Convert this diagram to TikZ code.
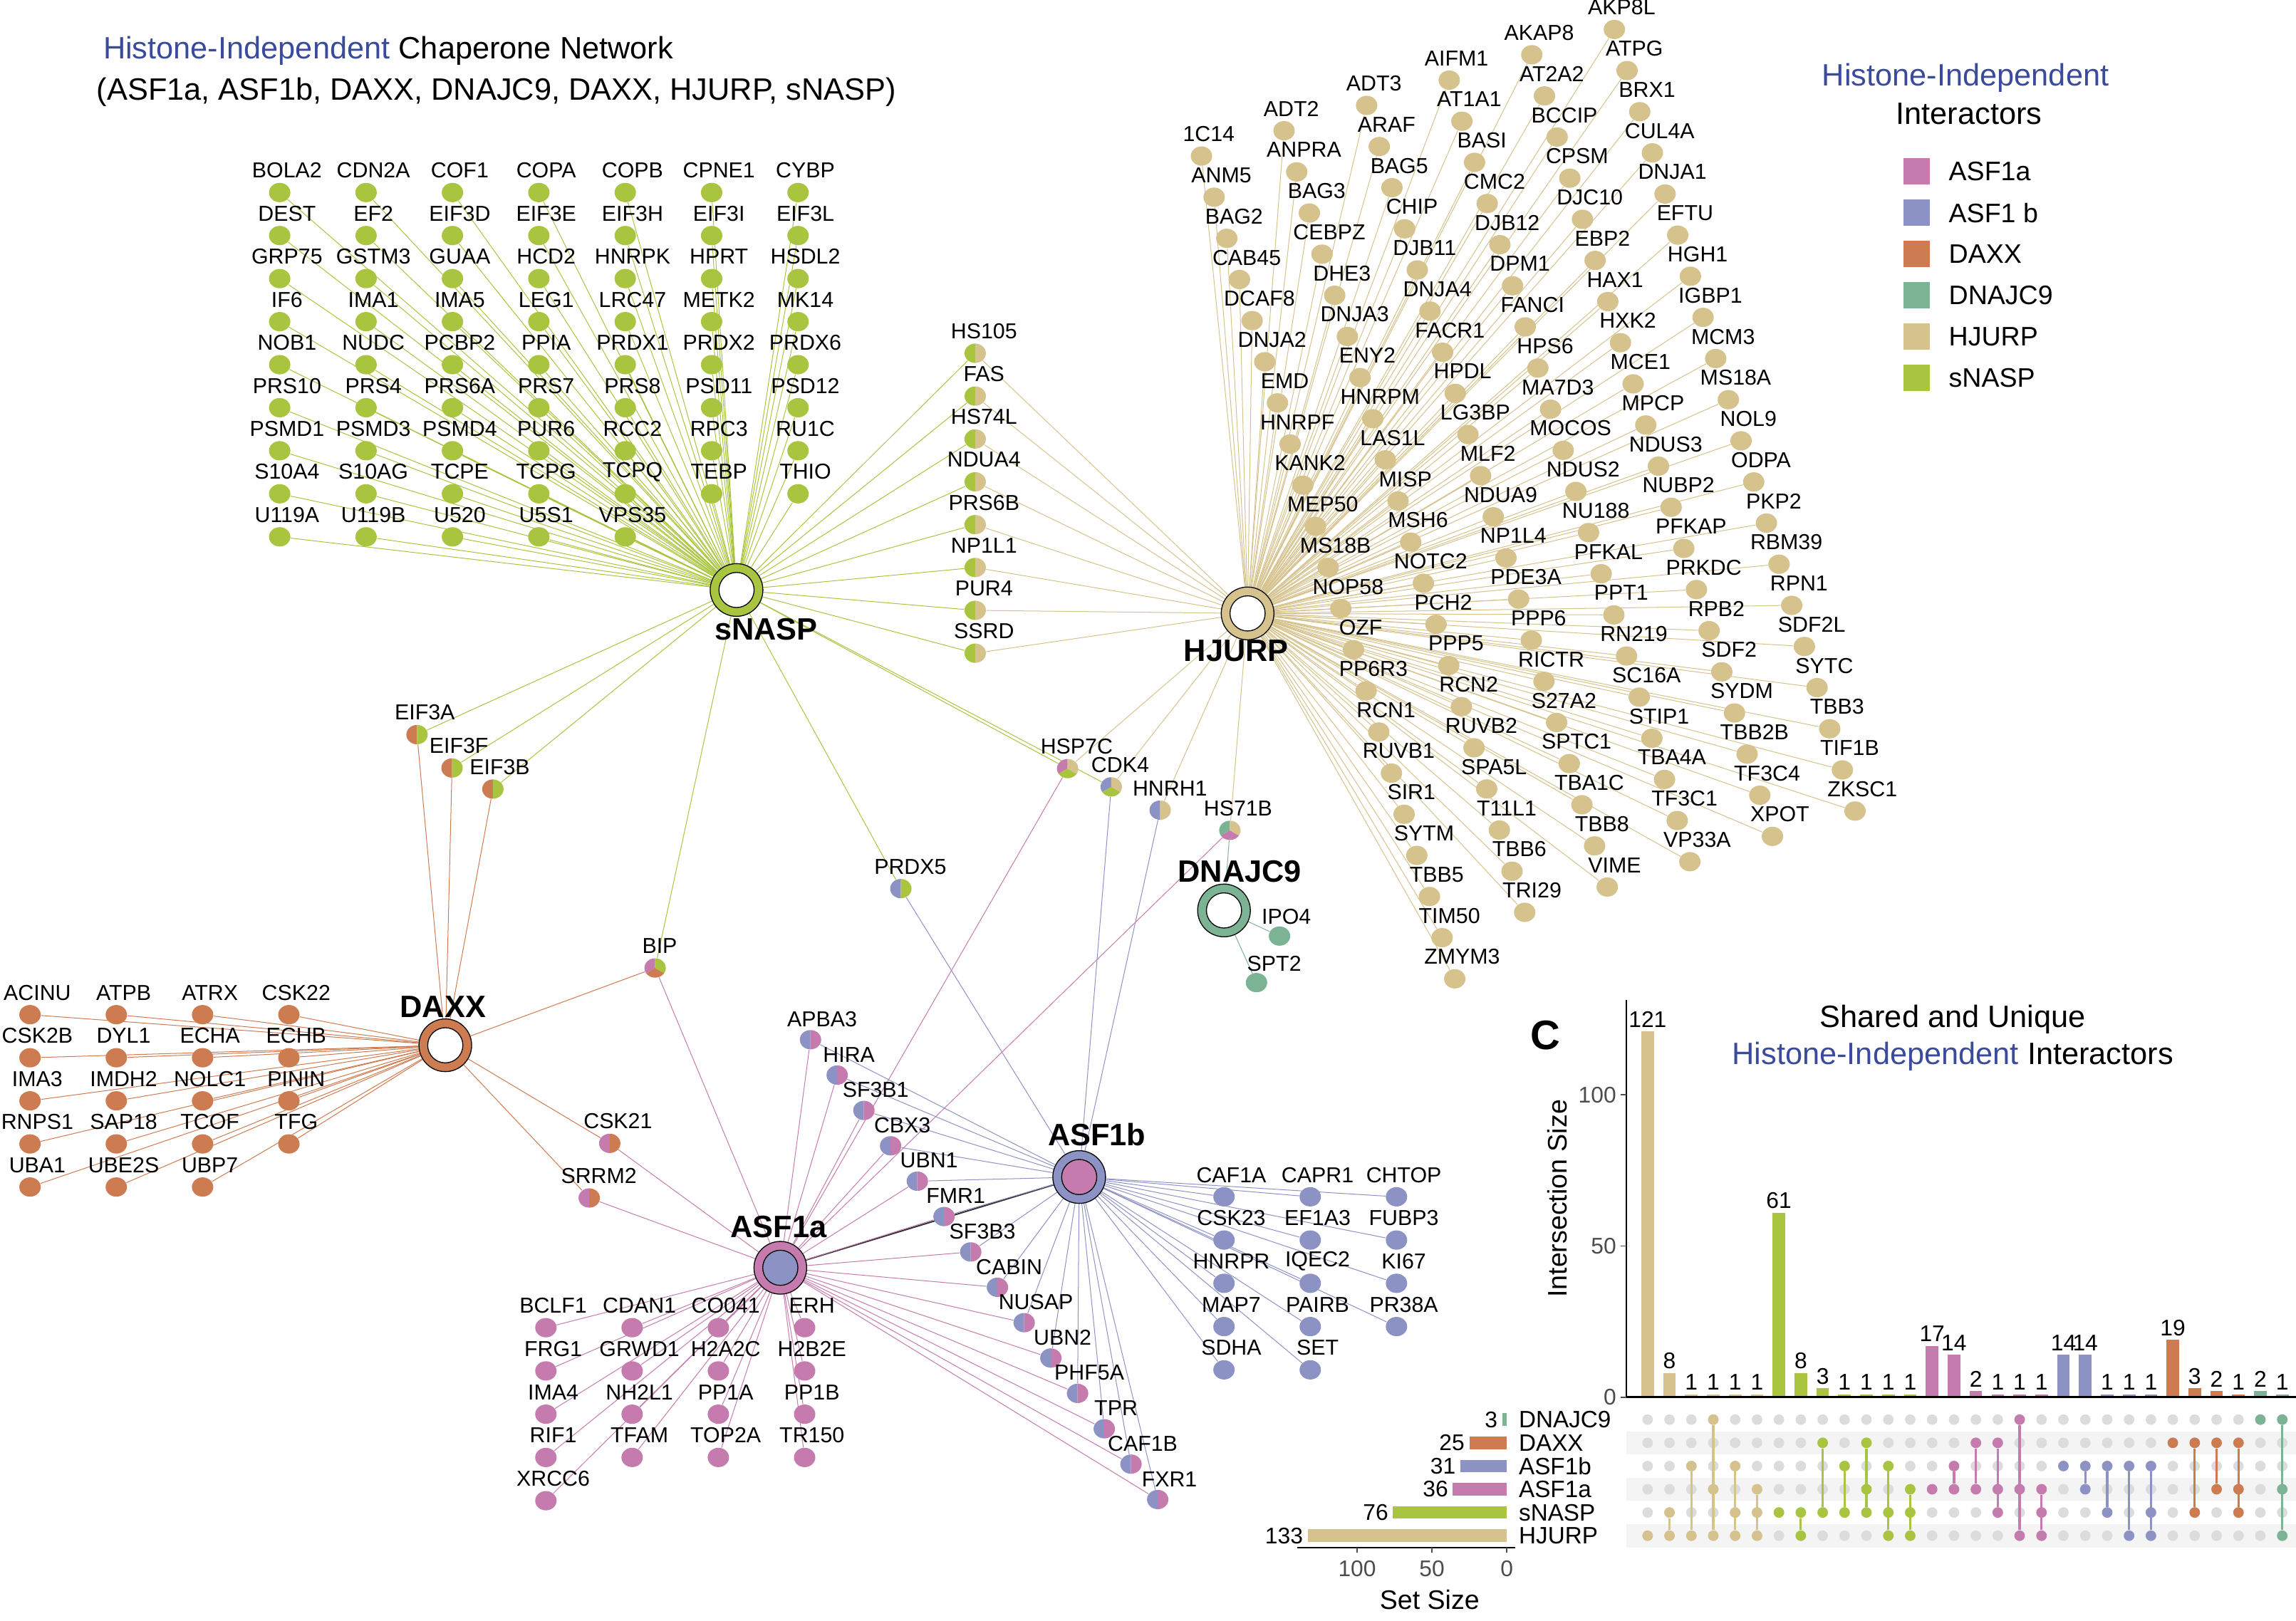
\documentclass[tikz,border=0pt]{standalone}
\usepackage{fontspec}
\setmainfont{Liberation Sans}
\usetikzlibrary{shapes.geometric}
\definecolor{cA}{HTML}{C67BAE}
\definecolor{cB}{HTML}{8C93C4}
\definecolor{cD}{HTML}{CD7B51}
\definecolor{cJ}{HTML}{7BB394}
\definecolor{cH}{HTML}{D6C28D}
\definecolor{cS}{HTML}{A9C540}
\definecolor{tblue}{HTML}{3A4A9C}
\definecolor{gband}{HTML}{F4F4F4}
\definecolor{gdotc}{HTML}{DCDCDC}
\pgfdeclarelayer{bg}
\pgfdeclarelayer{edges}
\pgfsetlayers{bg,edges,main}
\newcommand\myfs[1]{\fontsize{#1}{#1}\selectfont}
\newcommand\pfan[4]{\fill[#1] (path picture bounding box.center) -- ([shift={(#2:0.6cm)}]path picture bounding box.center) -- ([shift={(#3:0.6cm)}]path picture bounding box.center) -- ([shift={(#4:0.6cm)}]path picture bounding box.center) -- cycle;}
\newcommand\mkhub[5]{\node[hubring,fill=#4] (#1) at (#2,#3) {};\node[hubin,fill=#5] (#1-in) at (#2,#3) {};}
\newcommand\LstS{BOLA2,CDN2A,COF1,COPA,COPB,CPNE1,CYBP,DEST,EF2,EIF3D,EIF3E,EIF3H,EIF3I,EIF3L,GRP75,GSTM3,GUAA,HCD2,HNRPK,HPRT,HSDL2,IF6,IMA1,IMA5,LEG1,LRC47,METK2,MK14,NOB1,NUDC,PCBP2,PPIA,PRDX1,PRDX2,PRDX6,PRS10,PRS4,PRS6A,PRS7,PRS8,PSD11,PSD12,PSMD1,PSMD3,PSMD4,PUR6,RCC2,RPC3,RU1C,S10A4,S10AG,TCPE,TCPG,TCPQ,TEBP,THIO,U119A,U119B,U520,U5S1,VPS35}
\newcommand\LstSH{HS105,FAS,HS74L,NDUA4,PRS6B,NP1L1,PUR4,SSRD}
\newcommand\LstH{1C14,ADT2,ADT3,AIFM1,AKAP8,AKP8L,ANM5,ANPRA,ARAF,AT1A1,AT2A2,ATPG,BAG2,BAG3,BAG5,BASI,BCCIP,BRX1,CAB45,CEBPZ,CHIP,CMC2,CPSM,CUL4A,DCAF8,DHE3,DJB11,DJB12,DJC10,DNJA1,DNJA2,DNJA3,DNJA4,DPM1,EBP2,EFTU,EMD,ENY2,FACR1,FANCI,HAX1,HGH1,HNRPF,HNRPM,HPDL,HPS6,HXK2,IGBP1,KANK2,LAS1L,LG3BP,MA7D3,MCE1,MCM3,MEP50,MISP,MLF2,MOCOS,MPCP,MS18A,MS18B,MSH6,NDUA9,NDUS2,NDUS3,NOL9,NOP58,NOTC2,NP1L4,NU188,NUBP2,ODPA,OZF,PCH2,PDE3A,PFKAL,PFKAP,PKP2,PP6R3,PPP5,PPP6,PPT1,PRKDC,RBM39,RCN1,RCN2,RICTR,RN219,RPB2,RPN1,RUVB1,RUVB2,S27A2,SC16A,SDF2,SDF2L,SIR1,SPA5L,SPTC1,STIP1,SYDM,SYTC,SYTM,T11L1,TBA1C,TBA4A,TBB2B,TBB3,TBB5,TBB6,TBB8,TF3C1,TF3C4,TIF1B,TIM50,TRI29,VIME,VP33A,XPOT,ZKSC1,ZMYM3}
\newcommand\LstD{ACINU,ATPB,ATRX,CSK22,CSK2B,DYL1,ECHA,ECHB,IMA3,IMDH2,NOLC1,PININ,RNPS1,SAP18,TCOF,TFG,UBA1,UBE2S,UBP7}
\newcommand\LstA{BCLF1,CDAN1,CO041,ERH,FRG1,GRWD1,H2A2C,H2B2E,IMA4,NH2L1,PP1A,PP1B,RIF1,TFAM,TOP2A,TR150,XRCC6}
\newcommand\LstB{CAF1A,CAPR1,CHTOP,CSK23,EF1A3,FUBP3,HNRPR,IQEC2,KI67,MAP7,PAIRB,PR38A,SDHA,SET}
\newcommand\LstAB{APBA3,HIRA,SF3B1,CBX3,UBN1,FMR1,SF3B3,CABIN,NUSAP,UBN2,PHF5A,TPR,CAF1B,FXR1}
\tikzset{
 dot/.style={ellipse,inner sep=0pt,minimum width=0.365cm,minimum height=0.33cm},
 lbl/.style={inner sep=0pt,font=\myfs{10.5}},
 hubring/.style={circle,draw=black,line width=0.45pt,inner sep=0pt,minimum size=0.9cm},
 hubin/.style={circle,draw=black,line width=0.45pt,inner sep=0pt,minimum size=0.6cm},
 hublbl/.style={inner sep=0pt,font=\myfs{15}\bfseries},
 eA/.style={cA,line width=0.35pt},
 eB/.style={cB,line width=0.35pt},
 eD/.style={cD,line width=0.35pt},
 eJ/.style={cJ,line width=0.35pt},
 eH/.style={cH,line width=0.35pt},
 eS/.style={cS,line width=0.35pt},
 pietwo/.style 2 args={dot,path picture={\pfan{#1}{90}{180}{270}\pfan{#2}{270}{360}{450}}},
 piethree/.style n args={3}{dot,path picture={\pfan{#1}{90}{150}{210}\pfan{#2}{210}{270}{330}\pfan{#3}{330}{390}{450}}},
 gdot/.style={circle,inner sep=0pt,minimum size=0.18cm,fill=gdotc},
 mdot/.style={circle,inner sep=0pt,minimum size=0.18cm},
 num/.style={inner sep=0pt,font=\myfs{11}},
 tick/.style={inner sep=0pt,font=\myfs{11},text=black!70},
}
\begin{document}
\begin{tikzpicture}[x=0.025cm,y=-0.025cm]
\useasboundingbox (0,0) rectangle (1568,1107);

% ---------- titles ----------
\node[font=\myfs{15}] (title1) at (265.2,34.7) {\textcolor{tblue}{Histone-Independent} Chaperone Network};
\node[font=\myfs{15}] (title2) at (339,63) {(ASF1a, ASF1b, DAXX, DNAJC9, DAXX, HJURP, sNASP)};

% ---------- hubs ----------
\mkhub{sNASP}{503}{403}{cS}{white}
\mkhub{HJURP}{852}{419}{cH}{white}
\mkhub{DAXX}{304.1}{714}{cD}{white}
\mkhub{DNAJC9}{835.9}{621.9}{cJ}{white}
\mkhub{ASF1b}{737}{804}{cB}{cA}
\mkhub{ASF1a}{532.9}{866}{cA}{cB}
\node[hublbl] (lab-sNASP) at (523.2,429.9) {sNASP};
\node[hublbl] (lab-HJURP) at (844.3,444.7) {HJURP};
\node[hublbl] (lab-DAXX) at (302.5,687.5) {DAXX};
\node[hublbl] (lab-DNAJC9) at (846.7,595.3) {DNAJC9};
\node[hublbl] (lab-ASF1b) at (749.1,775.2) {ASF1b};
\node[hublbl] (lab-ASF1a) at (531.7,837.9) {ASF1a};

% ---------- sNASP only grid ----------
\foreach \lab [count=\i from 0] in \LstS {
  \pgfmathtruncatemacro\rr{floor((\i+0.5)/7)}
  \pgfmathtruncatemacro\cc{\i-7*\rr}
  \pgfmathsetmacro\xx{191+59*\cc}
  \pgfmathsetmacro\yy{131.5+29.4*\rr}
  \node[dot,fill=cS] (n-\lab) at (\xx,\yy) {};
  \node[lbl] (t-\lab) at (\xx+5,\yy-15) {\lab};
}
% ---------- sNASP + HJURP column ----------
\foreach \lab [count=\i from 0] in \LstSH {
  \pgfmathsetmacro\yy{241.3+29.27*\i}
  \node[pietwo={cS}{cH}] (n-\lab) at (666,\yy) {};
  \node[lbl] (t-\lab) at (672,\yy-15) {\lab};
}
% ---------- HJURP only grid ----------
\foreach \lab [count=\i from 0] in \LstH {
  \pgfmathtruncatemacro\rr{floor((\i+0.5)/6)}
  \pgfmathtruncatemacro\cc{\i-6*\rr}
  \pgfmathsetmacro\xx{820.5+8.65*\rr+56.4*\cc}
  \pgfmathsetmacro\yy{106.6+28.1*\rr-17.3*\cc}
  \node[dot,fill=cH] (n-\lab) at (\xx,\yy) {};
  \node[lbl] (t-\lab) at (\xx+5,\yy-15) {\lab};
}
% ---------- DAXX only grid ----------
\foreach \lab [count=\i from 0] in \LstD {
  \pgfmathtruncatemacro\rr{floor((\i+0.5)/4)}
  \pgfmathtruncatemacro\cc{\i-4*\rr}
  \pgfmathsetmacro\xx{20.5+58.93*\cc}
  \pgfmathsetmacro\yy{693.1+29.43*\rr}
  \node[dot,fill=cD] (n-\lab) at (\xx,\yy) {};
  \node[lbl] (t-\lab) at (\xx+5,\yy-15) {\lab};
}
% ---------- ASF1a only grid ----------
\foreach \lab [count=\i from 0] in \LstA {
  \pgfmathtruncatemacro\rr{floor((\i+0.5)/4)}
  \pgfmathtruncatemacro\cc{\i-4*\rr}
  \pgfmathsetmacro\xx{372.8+58.9*\cc}
  \pgfmathsetmacro\yy{906.9+29.55*\rr}
  \node[dot,fill=cA] (n-\lab) at (\xx,\yy) {};
  \node[lbl] (t-\lab) at (\xx+5,\yy-15) {\lab};
}
% ---------- ASF1b only grid ----------
\foreach \lab [count=\i from 0] in \LstB {
  \pgfmathtruncatemacro\rr{floor((\i+0.5)/3)}
  \pgfmathtruncatemacro\cc{\i-3*\rr}
  \pgfmathsetmacro\xx{835.9+58.9*\cc}
  \pgfmathsetmacro\yy{817.5+29.55*\rr}
  \node[dot,fill=cB] (n-\lab) at (\xx,\yy) {};
  \node[lbl] (t-\lab) at (\xx+5,\yy-15) {\lab};
}
% ---------- ASF1a + ASF1b shared ----------
\foreach \lab [count=\i from 0] in \LstAB {
  \pgfmathsetmacro\xx{553.5+18.24*\i}
  \pgfmathsetmacro\yy{710.2+24.16*\i}
  \node[pietwo={cB}{cA}] (n-\lab) at (\xx,\yy) {};
  \node[lbl] (t-\lab) at (\xx+8,\yy-14) {\lab};
}
% ---------- other shared nodes ----------
\node[pietwo={cD}{cS}] (n-EIF3A) at (284.8,501.8) {};
\node[lbl] (t-EIF3A) at (290.1,486.5) {EIF3A};
\node[pietwo={cD}{cS}] (n-EIF3F) at (308.7,524.6) {};
\node[lbl] (t-EIF3F) at (313.4,509.3) {EIF3F};
\node[pietwo={cD}{cS}] (n-EIF3B) at (336.6,539.0) {};
\node[lbl] (t-EIF3B) at (341.3,524.0) {EIF3B};
\node[piethree={cA}{cD}{cS}] (n-BIP) at (447.4,661.2) {};
\node[lbl] (t-BIP) at (450.5,646) {BIP};
\node[pietwo={cA}{cD}] (n-CSK21) at (416.4,781.0) {};
\node[lbl] (t-CSK21) at (422,766) {CSK21};
\node[pietwo={cA}{cD}] (n-SRRM2) at (402.4,818.3) {};
\node[lbl] (t-SRRM2) at (409,803.4) {SRRM2};
\node[pietwo={cB}{cS}] (n-PRDX5) at (615.2,607.0) {};
\node[lbl] (t-PRDX5) at (621.7,592) {PRDX5};
\node[piethree={cA}{cS}{cH}] (n-HSP7C) at (729.1,525) {};
\node[lbl] (t-HSP7C) at (735.3,510) {HSP7C};
\node[piethree={cB}{cS}{cH}] (n-CDK4) at (758.9,537.5) {};
\node[lbl] (t-CDK4) at (765,522.5) {CDK4};
\node[pietwo={cB}{cH}] (n-HNRH1) at (792.3,553.4) {};
\node[lbl] (t-HNRH1) at (799,538.4) {HNRH1};
\node[piethree={cJ}{cA}{cH}] (n-HS71B) at (839.9,567.2) {};
\node[lbl] (t-HS71B) at (845.5,552) {HS71B};
\node[dot,fill=cJ] (n-IPO4) at (873.8,639.4) {};
\node[lbl] (t-IPO4) at (878.5,626) {IPO4};
\node[dot,fill=cJ] (n-SPT2) at (858.1,671.2) {};
\node[lbl] (t-SPT2) at (870.2,658.4) {SPT2};

% ---------- all edges, one layer block ----------
\begin{pgfonlayer}{edges}
 \draw[black!80,line width=0.7pt] (ASF1a) -- (ASF1b);
 \foreach \lab in \LstS {\draw[eS] (sNASP) -- (n-\lab);}
 \foreach \lab in \LstSH {\draw[eS] (sNASP) -- (n-\lab);\draw[eH] (HJURP) -- (n-\lab);}
 \foreach \lab in \LstH {\draw[eH] (HJURP) -- (n-\lab);}
 \foreach \lab in \LstD {\draw[eD] (DAXX) -- (n-\lab);}
 \foreach \lab in \LstA {\draw[eA] (ASF1a) -- (n-\lab);}
 \foreach \lab in \LstB {\draw[eB] (ASF1b) -- (n-\lab);}
 \foreach \lab in \LstAB {\draw[eA] (ASF1a) -- (n-\lab);\draw[eB] (ASF1b) -- (n-\lab);}
 \foreach \m in {EIF3A,EIF3F,EIF3B}{\draw[eS] (sNASP) -- (n-\m);\draw[eD] (DAXX) -- (n-\m);}
 \draw[eS] (sNASP) -- (n-BIP); \draw[eD] (DAXX) -- (n-BIP); \draw[eA] (ASF1a) -- (n-BIP);
 \draw[eD] (DAXX) -- (n-CSK21); \draw[eA] (ASF1a) -- (n-CSK21);
 \draw[eD] (DAXX) -- (n-SRRM2); \draw[eA] (ASF1a) -- (n-SRRM2);
 \draw[eS] (sNASP) -- (n-PRDX5); \draw[eB] (ASF1b) -- (n-PRDX5);
 \draw[eS] (sNASP) -- (n-HSP7C); \draw[eH] (HJURP) -- (n-HSP7C); \draw[eA] (ASF1a) -- (n-HSP7C);
 \draw[eS] (sNASP) -- (n-CDK4); \draw[eH] (HJURP) -- (n-CDK4); \draw[eB] (ASF1b) -- (n-CDK4);
 \draw[eH] (HJURP) -- (n-HNRH1); \draw[eB] (ASF1b) -- (n-HNRH1);
 \draw[eH] (HJURP) -- (n-HS71B); \draw[eJ] (DNAJC9) -- (n-HS71B); \draw[eA] (ASF1a) -- (n-HS71B);
 \draw[eJ] (DNAJC9) -- (n-IPO4); \draw[eJ] (DNAJC9) -- (n-SPT2);
\end{pgfonlayer}

% ---------- legend ----------
\node[font=\myfs{15},text=tblue] (lg-t1) at (1342.3,53.1) {Histone-Independent};
\node[font=\myfs{15}] (lg-t2) at (1344.7,77.8) {Interactors};
\foreach \nm/\col [count=\i from 0] in {ASF1a/cA,ASF1 b/cB,DAXX/cD,DNAJC9/cJ,HJURP/cH,sNASP/cS}{
  \pgfmathsetmacro\yy{117.1+28.18*\i}
  \node[rectangle,inner sep=0pt,minimum size=0.45cm,fill=\col] (lg-sq\i) at (1308.9,\yy) {};
  \node[anchor=west,inner sep=0pt,font=\myfs{13}] (lg-l\i) at (1330.6,\yy) {\nm};
}

% ---------- UpSet plot ----------
\node[font=\myfs{20}\bfseries] (panelC) at (1055.3,707) {C};
\node[font=\myfs{15}] (up-t1) at (1333.6,696.4) {Shared and Unique};
\node[font=\myfs{15}] (up-t2) at (1333.6,721.4) {\textcolor{tblue}{Histone-Independent} Interactors};
\node[font=\myfs{13},rotate=90] (up-ylab) at (1063.3,818.7) {Intersection Size};
\foreach \r in {1,3,5}{
  \fill[gband] (1110.6,969.7+15.86*\r-7.93) rectangle (1568,969.7+15.86*\r+7.93);
}
\draw[black,line width=0.6pt] (1110.6,683) -- (1110.6,954.4);
\foreach \v in {0,50,100}{
  \draw[black!70,line width=0.5pt] (1107,954.4-2.066*\v) -- (1110.6,954.4-2.066*\v);
  \node[tick,anchor=east] (yt\v) at (1104,954.4-2.066*\v) {\v};
}
\foreach \v/\col/\lo/\hi/\rows [count=\k from 0] in {121/cH/5/5/{5},8/cH/4/5/{4,5},1/cH/2/5/{2,5},1/cH/0/5/{0,3,5},1/cH/2/5/{2,4,5},1/cH/3/5/{3,4,5},
 61/cS/4/4/{4},8/cS/4/5/{4,5},3/cS/1/4/{1,4},1/cS/2/4/{2,4},1/cS/1/4/{1,3,4},1/cS/2/5/{2,4,5},1/cS/3/5/{3,4,5},
 17/cA/3/3/{3},14/cA/2/3/{2,3},2/cA/1/3/{1,3},1/cA/1/4/{1,3,4},1/cA/0/5/{0,3,5},1/cA/3/5/{3,4,5},
 14/cB/2/2/{2},14/cB/2/3/{2,3},1/cB/2/4/{2,4},1/cB/2/5/{2,5},1/cB/2/5/{2,4,5},
 19/cD/1/1/{1},3/cD/1/4/{1,4},2/cD/1/3/{1,3},1/cD/1/4/{1,3,4},
 2/cJ/0/0/{0},1/cJ/0/5/{0,3,5}}{
  \pgfmathsetmacro\bx{1125.2+14.945*\k}
  \pgfmathsetmacro\bt{954.4-2.066*\v}
  \fill[\col] (\bx-4.3,954.4) rectangle (\bx+4.3,\bt);
  \node[num,anchor=south] (bar\k) at (\bx,\bt-2.5) {\v};
  \foreach \r in {0,...,5}{\node[gdot] (g\k-\r) at (\bx,969.7+15.86*\r) {};}
  \foreach \r in \rows{\node[mdot,fill=\col] (m\k-\r) at (\bx,969.7+15.86*\r) {};}
  \ifnum\lo<\hi \draw[\col,line width=1.1pt] (m\k-\lo) -- (m\k-\hi);\fi
}
\draw[black,line width=1pt] (1110.6,954.4) -- (1568,954.4);

% set sizes
\foreach \nm/\s/\col [count=\r from 0] in {DNAJC9/3/cJ,DAXX/25/cD,ASF1b/31/cB,ASF1a/36/cA,sNASP/76/cS,HJURP/133/cH}{
  \pgfmathsetmacro\yy{969.7+15.86*\r}
  \pgfmathsetmacro\bl{1029-1.022*\s}
  \fill[\col] (\bl,\yy-4.3) rectangle (1029,\yy+4.3);
  \node[num,anchor=east] (ss\r) at (\bl-3,\yy) {\s};
  \node[num,anchor=west,font=\myfs{11.5}] (sn\r) at (1037,\yy) {\nm};
}
\draw[black,line width=0.6pt] (886,1057.3) -- (1035,1057.3);
\foreach \v in {0,50,100}{
  \draw[black!70,line width=0.5pt] (1029-1.022*\v,1057.3) -- (1029-1.022*\v,1060.8);
  \node[tick] (xt\v) at (1029-1.022*\v,1071.7) {\v};
}
\node[font=\myfs{13}] (up-xlab) at (976.3,1092.6) {Set Size};
\end{tikzpicture}
\end{document}
